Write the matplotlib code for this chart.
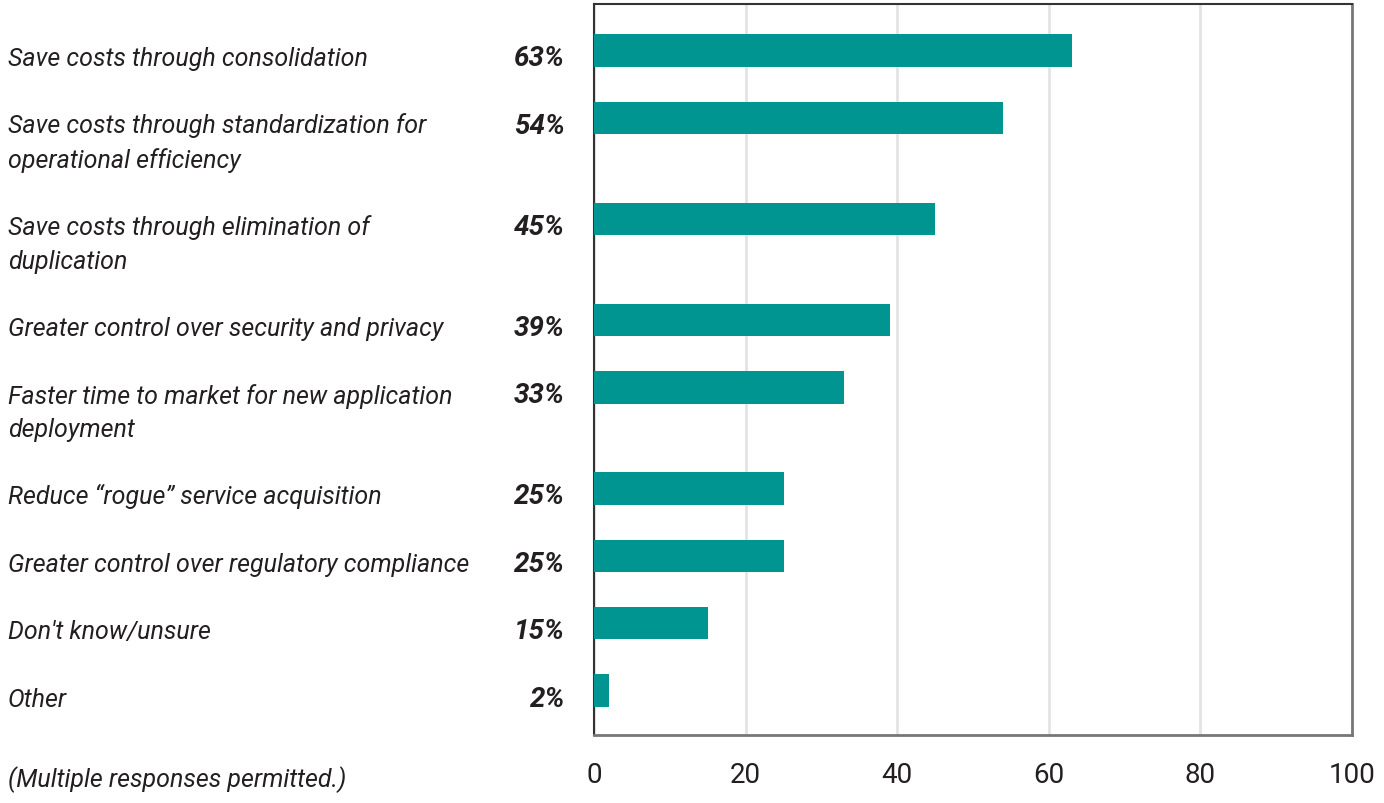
import numpy as np
import matplotlib
matplotlib.use("Agg")
import matplotlib.pyplot as plt
from matplotlib.transforms import blended_transform_factory

plt.rcParams['font.family'] = ['Roboto', 'DejaVu Sans']

labels = [
    "Save costs through consolidation",
    "Save costs through standardization for\noperational efficiency",
    "Save costs through elimination of\nduplication",
    "Greater control over security and privacy",
    "Faster time to market for new application\ndeployment",
    "Reduce \u201crogue\u201d service acquisition",
    "Greater control over regulatory compliance",
    "Don't know/unsure",
    "Other",
]
values = [63, 54, 45, 39, 33, 25, 25, 15, 2]
ticks = [0, 20, 40, 60, 80, 100]
note = "(Multiple responses permitted.)"

bar_color = "#009590"
text_color = "#231f20"

# row positions: two-line labels take an extra half row
nlines = [l.count("\n") + 1 for l in labels]
pos = [0.0]
for n in nlines[:-1]:
    pos.append(pos[-1] + 1 + 0.5 * (n - 1))
pos = np.array(pos)

W, H = 1384, 804
fig = plt.figure(figsize=(W / 100, H / 100), dpi=100)
ax = fig.add_axes([594 / W, 1 - 736 / H, (1352 - 594) / W, (736 - 5) / H])

ax.barh(pos, values, height=0.48, color=bar_color, zorder=3)
ax.set_xlim(0, 100)
ax.set_ylim(pos[-1] + 0.66, -0.69)
ax.set_xticks(ticks)
ax.set_xticklabels([str(t) for t in ticks])
ax.set_yticks([])
ax.tick_params(axis='x', length=0, pad=19, labelsize=20, labelcolor=text_color)
ax.grid(axis='x', color='#e3e3e3', linewidth=2, zorder=0)

for side in ['top', 'left']:
    ax.spines[side].set_color('#333333')
    ax.spines[side].set_linewidth(1.5)
for side in ['bottom', 'right']:
    ax.spines[side].set_color('#777777')
    ax.spines[side].set_linewidth(2)

row_px = (736 - 5) / (ax.get_ylim()[0] - ax.get_ylim()[1])
base = 15 / row_px   # baseline sits a little below the bar centre
line = 34 / row_px   # distance between wrapped label lines
tr = blended_transform_factory(fig.transFigure, ax.transData)
for y, lab, v, n in zip(pos, labels, values, nlines):
    # va='baseline' anchors the last line, so push wrapped labels down
    ax.text(8 / W, y + base + (n - 1) * line, lab, transform=tr, ha='left',
            va='baseline', fontsize=18, style='italic', color=text_color,
            linespacing=1.5)
    ax.text(565 / W, y + base, f"{v}%", transform=tr, ha='right', va='baseline',
            fontsize=20, style='italic', fontweight='bold', color=text_color)

fig.text(8 / W, 1 - 787 / H, note, ha='left', va='baseline', fontsize=18,
         style='italic', color=text_color)

fig.savefig("out.png", dpi=100, facecolor='white')
